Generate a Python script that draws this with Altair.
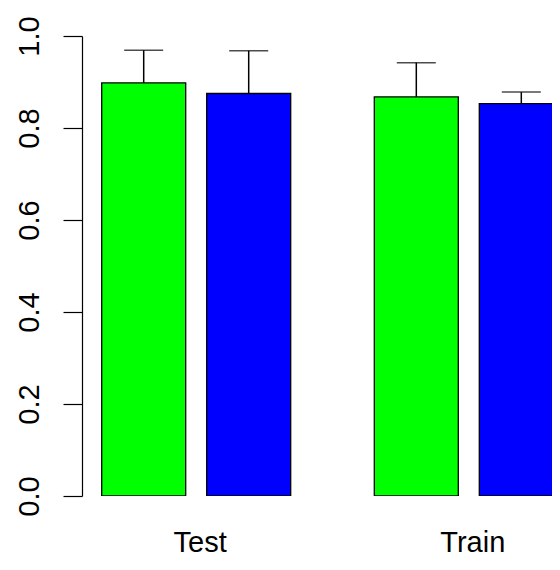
import altair as alt
import pandas as pd

groups = ["Test", "Test", "Train", "Train"]
series = ["A", "B", "A", "B"]
values = [0.898, 0.875, 0.8675, 0.853]
uppers = [0.969, 0.968, 0.942, 0.878]
colors = ["#00FF00", "#0000FF"]

df = pd.DataFrame({"group": groups, "series": series, "value": values, "upper": uppers})

xs = alt.X("group:N", title=None,
           scale=alt.Scale(range=[19.7, 481.3], paddingInner=0.3067, paddingOuter=0),
           axis=alt.Axis(domain=False, ticks=False, tickSize=0, labelAngle=0,
                         labelFontSize=29, labelFont="Liberation Sans", labelColor="black",
                         labelBaseline="alphabetic", labelPadding=55, labelAlign="center",
                         labelOffset=4))
xo = alt.XOffset("series:N", scale=alt.Scale(paddingInner=0.2, paddingOuter=0))
ys = alt.Y("value:Q", title=None,
           scale=alt.Scale(domain=[0, 1], nice=False, zero=True),
           axis=alt.Axis(values=[0, 0.2, 0.4, 0.6, 0.8, 1.0], format=".1f", grid=False,
                         domainColor="black", domainWidth=1.2, tickColor="black", tickWidth=1.2,
                         tickSize=19, labelAngle=-90, labelAlign="center",
                         labelBaseline="alphabetic", labelPadding=25, labelFontSize=29,
                         labelFont="Liberation Sans", labelColor="black"))

bars = alt.Chart(df).mark_bar(stroke="black", strokeWidth=1.3, clip=True).encode(
    x=xs, xOffset=xo, y=ys,
    color=alt.Color("series:N", scale=alt.Scale(domain=["A", "B"], range=colors), legend=None),
)
rules = alt.Chart(df).mark_rule(color="black", strokeWidth=1.5).encode(
    x=xs, xOffset=xo, y="value:Q", y2="upper:Q"
)
caps = alt.Chart(df).mark_tick(color="black", thickness=1.5, size=39, orient="horizontal").encode(
    x=xs, xOffset=xo, y="upper:Q"
)

chart = alt.layer(bars, rules, caps).properties(
    width=470, height=460,
    autosize=alt.AutoSizeParams(type="none"),
    padding={"left": 74, "top": 28, "right": 0, "bottom": 62},
).configure(background="white").configure_view(stroke=None)

chart.save("out.html", embed_options={"renderer": "svg", "actions": False})
